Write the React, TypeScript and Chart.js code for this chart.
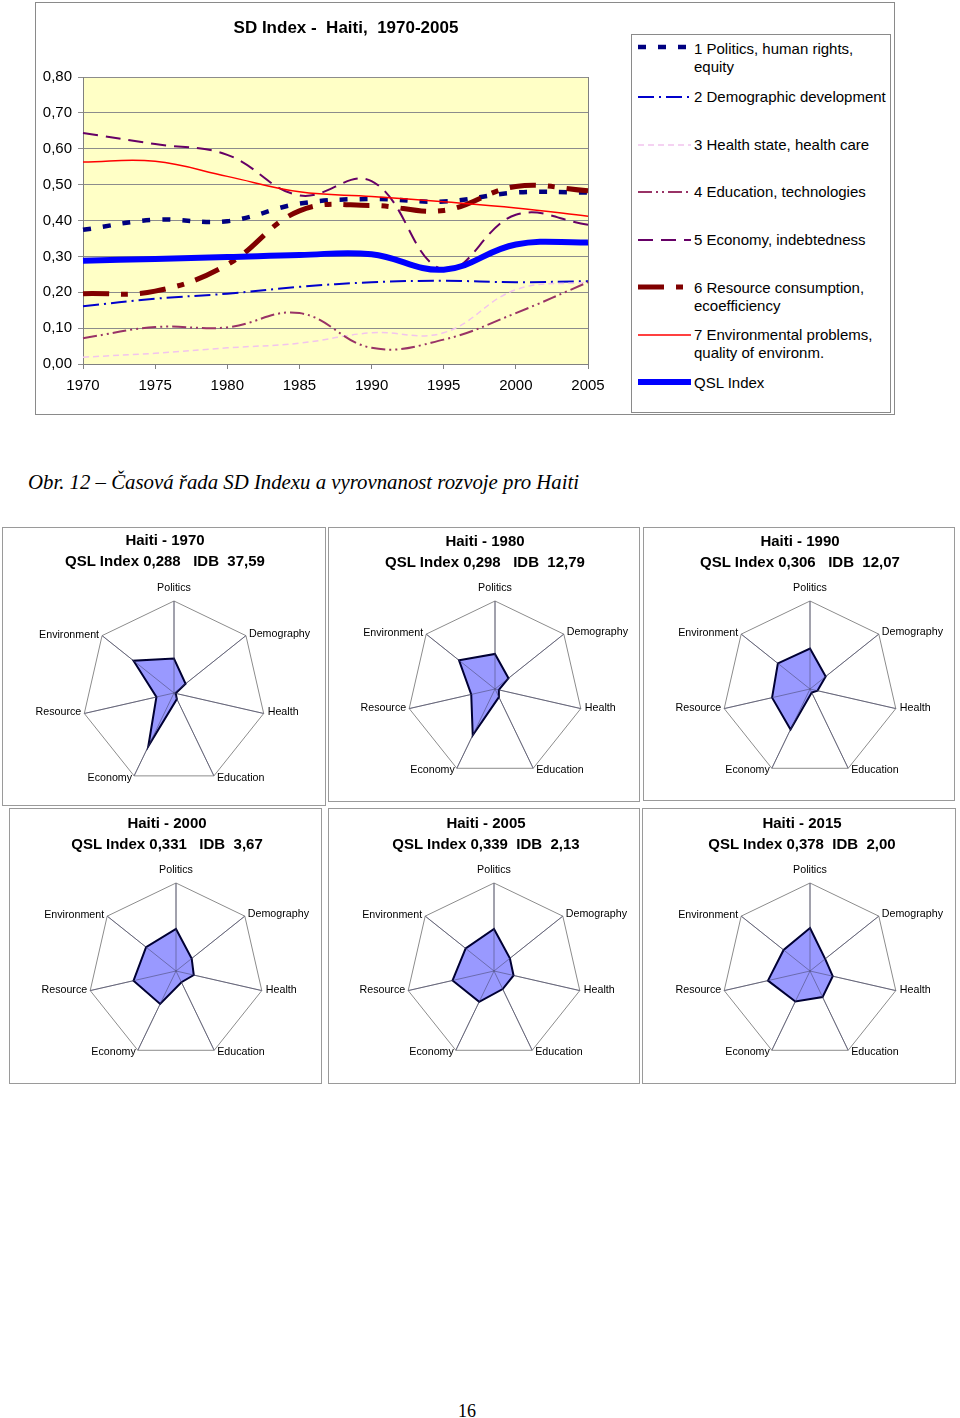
import React, { useEffect, useRef } from "react";
import { Chart, registerables } from "chart.js";

Chart.register(...registerables);

// ---------- DATA ----------
const years = ["1970", "1975", "1980", "1985", "1990", "1995", "2000", "2005"];
const politics = [0.374, 0.402, 0.398, 0.447, 0.46, 0.453, 0.478, 0.478];
const demographic = [0.161, 0.182, 0.196, 0.215, 0.228, 0.232, 0.228, 0.231];
const health = [0.019, 0.03, 0.045, 0.058, 0.087, 0.087, 0.207, 0.228];
const education = [0.072, 0.103, 0.102, 0.142, 0.045, 0.068, 0.142, 0.228];
const economy = [0.644, 0.613, 0.583, 0.47, 0.51, 0.263, 0.416, 0.388];
const resource = [0.196, 0.203, 0.277, 0.427, 0.442, 0.428, 0.495, 0.483];
const environment = [0.563, 0.565, 0.523, 0.48, 0.467, 0.452, 0.435, 0.412];
const qslIndex = [0.288, 0.293, 0.298, 0.304, 0.306, 0.263, 0.333, 0.339];

const radarAxes = ["Politics", "Demography", "Health", "Education", "Economy", "Resource", "Environment"];
const radarYears = ["1970", "1980", "1990", "2000", "2005", "2015"];
const radarYearIndex = [0, 2, 4, 6, 7]; // positions in `years` for the historical radars
const radar2015 = [0.489, 0.22, 0.265, 0.329, 0.384, 0.49, 0.384];
const radarQsl = ["0,288", "0,298", "0,306", "0,331", "0,339", "0,378"];
const radarIdb = ["37,59", "12,79", "12,07", "3,67", "2,13", "2,00"];
const radarGaps = ["   ", "   ", "   ", "   ", "  ", "  "];

const seriesLabels = [
  ["1 Politics, human rights,", "equity"],
  ["2 Demographic development"],
  ["3 Health state, health care"],
  ["4 Education, technologies"],
  ["5 Economy, indebtedness"],
  ["6 Resource consumption,", "ecoefficiency"],
  ["7 Environmental problems,", "quality of environm."],
  ["QSL Index"],
];
const seriesData = [politics, demographic, health, education, economy, resource, environment, qslIndex];

// ---------- STYLES ----------
const seriesStyle = [
  { color: "#000080", width: 4.5, dash: [8, 12] },
  { color: "#0000CC", width: 2, dash: [16, 5, 2, 5] },
  { color: "#F2C4EE", width: 1.5, dash: [6, 4] },
  { color: "#993366", width: 2, dash: [14, 4, 2, 4, 2, 4] },
  { color: "#660066", width: 2, dash: [15, 8] },
  { color: "#800000", width: 5, dash: [26, 12, 7, 12] },
  { color: "#FF0000", width: 1.5, dash: [] as number[] },
  { color: "#0000FF", width: 6, dash: [] as number[] },
];
const legendLineY = [47, 97, 145, 192, 240, 287, 335, 382];
const legendTextY = [49, 97, 145, 192, 240, 288, 335, 383];

const SANS = "'Liberation Sans', Arial, Helvetica, sans-serif";
const SERIF = "'Liberation Serif', 'Times New Roman', serif";

const panels = [
  { x: 2, y: 527, w: 324, h: 279, cx: 174, cy: 693, R: 92, tx: 165, ty: 539 },
  { x: 328, y: 527, w: 312, h: 275, cx: 495, cy: 689, R: 88, tx: 485, ty: 540 },
  { x: 643, y: 527, w: 312, h: 274, cx: 810, cy: 689, R: 88, tx: 800, ty: 540 },
  { x: 9, y: 808, w: 313, h: 276, cx: 176, cy: 971, R: 88, tx: 167, ty: 822 },
  { x: 328, y: 808, w: 312, h: 276, cx: 494, cy: 971, R: 88, tx: 486, ty: 822 },
  { x: 642, y: 808, w: 314, h: 276, cx: 810, cy: 971, R: 88, tx: 802, ty: 822 },
];

function radarValues(k: number): number[] {
  if (k >= radarYearIndex.length) return radar2015;
  const i = radarYearIndex[k];
  return [politics[i], demographic[i], health[i], education[i], economy[i], resource[i], environment[i]];
}

// ---------- MAIN LINE CHART ----------
function MainChart() {
  const ref = useRef<HTMLCanvasElement>(null);
  useEffect(() => {
    const bg = {
      id: "plotBg",
      beforeDraw(c: any) {
        const { ctx, chartArea: a } = c;
        ctx.save();
        ctx.fillStyle = "#FFFFC6";
        ctx.fillRect(a.left, a.top, a.right - a.left, a.bottom - a.top);
        ctx.restore();
      },
      beforeDatasetsDraw(c: any) {
        const { ctx, chartArea: a } = c;
        ctx.save();
        ctx.strokeStyle = "#808080";
        ctx.lineWidth = 1;
        ctx.beginPath();
        ctx.moveTo(Math.round(a.right) + 0.5, a.top);
        ctx.lineTo(Math.round(a.right) + 0.5, a.bottom);
        ctx.stroke();
        ctx.restore();
      },
    };
    const chart = new Chart(ref.current as HTMLCanvasElement, {
      type: "line",
      data: {
        labels: years,
        datasets: seriesData.map((d, i) => ({
          label: seriesLabels[i].join(" "),
          data: d,
          borderColor: seriesStyle[i].color,
          backgroundColor: seriesStyle[i].color,
          borderWidth: seriesStyle[i].width,
          borderDash: seriesStyle[i].dash,
          pointRadius: 0,
          tension: 0.4,
          fill: false,
          order: seriesData.length - i,
        })),
      },
      options: {
        responsive: false,
        animation: false,
        devicePixelRatio: 1,
        layout: { padding: { left: 7, right: 42, top: 74, bottom: 19 } },
        plugins: {
          legend: { display: false },
          title: { display: false },
          tooltip: { enabled: false },
        },
        scales: {
          x: {
            type: "category",
            offset: false,
            grid: { drawOnChartArea: false, drawTicks: true, tickLength: 5, color: "#808080" },
            border: { color: "#808080" },
            ticks: {
              color: "#000",
              font: { family: SANS, size: 15 },
              padding: 8,
              maxRotation: 0,
              autoSkip: false,
            },
            afterFit: (s: any) => {
              s.height = 30;
            },
          },
          y: {
            min: 0,
            max: 0.8,
            ticks: {
              stepSize: 0.1,
              color: "#000",
              font: { family: SANS, size: 15 },
              padding: 6,
              callback: (v: any) => Number(v).toFixed(2).replace(".", ","),
            },
            grid: { color: "#8C8C8C", tickLength: 5, lineWidth: 1 },
            border: { color: "#808080" },
            afterFit: (s: any) => {
              s.width = 40;
            },
          },
        },
      } as any,
      plugins: [bg],
    });
    return () => chart.destroy();
  }, []);
  return (
    <canvas
      ref={ref}
      width={594}
      height={410}
      style={{ position: "absolute", left: 36, top: 3, width: 594, height: 410 }}
    />
  );
}

function Legend() {
  return (
    <div
      style={{
        position: "absolute",
        left: 631,
        top: 34,
        width: 258,
        height: 377,
        border: "1px solid #8a8a8a",
        background: "#fff",
      }}
    >
      <svg width={60} height={377} style={{ position: "absolute", left: 0, top: 0 }}>
        {seriesStyle.map((s, i) => (
          <line
            key={i}
            x1={6}
            x2={59}
            y1={legendLineY[i] - 35}
            y2={legendLineY[i] - 35}
            stroke={s.color}
            strokeWidth={s.width}
            strokeDasharray={s.dash.length ? s.dash.join(" ") : undefined}
          />
        ))}
      </svg>
      {seriesLabels.map((lines, i) => (
        <div
          key={i}
          style={{
            position: "absolute",
            left: 62,
            top: legendTextY[i] - 35 - 9,
            fontFamily: SANS,
            fontSize: 15,
            lineHeight: "18px",
            color: "#000",
            whiteSpace: "pre",
          }}
        >
          {lines.map((t, j) => (
            <div key={j}>{t}</div>
          ))}
        </div>
      ))}
    </div>
  );
}

// ---------- RADAR PANELS ----------
const labelOffsets = [
  { dx: 0, dy: -13 },
  { dx: 3, dy: -2 },
  { dx: 4, dy: -1 },
  { dx: 3, dy: 2 },
  { dx: -2, dy: 2 },
  { dx: -3, dy: -1 },
  { dx: -3, dy: -1 },
];

function RadarPanel({ k }: { k: number }) {
  const ref = useRef<HTMLCanvasElement>(null);
  const p = panels[k];
  const cvX = p.x + 1;
  const cvY = p.y + 1;
  const cvW = p.w - 2;
  const cvH = p.h - 2;
  useEffect(() => {
    const labelPlugin = {
      id: "radarLabels",
      afterDatasetsDraw(c: any) {
        const s = c.scales.r;
        const ctx = c.ctx;
        ctx.save();
        ctx.strokeStyle = "rgba(70,70,110,0.55)";
        ctx.lineWidth = 1;
        for (let i = 0; i < radarAxes.length; i++) {
          const pt = s.getPointPosition(i, s.drawingArea);
          ctx.beginPath();
          ctx.moveTo(s.xCenter, s.yCenter);
          ctx.lineTo(pt.x, pt.y);
          ctx.stroke();
        }
        ctx.font = `10.7px ${SANS}`;
        ctx.fillStyle = "#000";
        ctx.textBaseline = "middle";
        for (let i = 0; i < radarAxes.length; i++) {
          const pt = s.getPointPosition(i, s.drawingArea);
          const o = labelOffsets[i];
          if (i === 0) ctx.textAlign = "center";
          else ctx.textAlign = pt.x > s.xCenter ? "left" : "right";
          ctx.fillText(radarAxes[i], pt.x + o.dx, pt.y + o.dy);
        }
        ctx.restore();
      },
    };
    const chart = new Chart(ref.current as HTMLCanvasElement, {
      type: "radar",
      data: {
        labels: radarAxes,
        datasets: [
          {
            data: radarValues(k),
            backgroundColor: "#9999FF",
            borderColor: "#000033",
            borderWidth: 2,
            pointRadius: 0,
            fill: true,
            tension: 0,
          },
        ],
      },
      options: {
        responsive: false,
        animation: false,
        devicePixelRatio: 1,
        layout: {
          padding: {
            left: p.cx - p.R - cvX,
            top: p.cy - p.R - cvY,
            right: cvX + cvW - (p.cx + p.R),
            bottom: cvY + cvH - (p.cy + p.R),
          },
        },
        plugins: {
          legend: { display: false },
          title: { display: false },
          tooltip: { enabled: false },
        },
        scales: {
          r: {
            min: 0,
            max: 1,
            ticks: { display: false, stepSize: 1 },
            pointLabels: { display: false },
            grid: { color: "#8C8C8C", lineWidth: 1 },
            angleLines: { color: "#8C8C8C", lineWidth: 1 },
          },
        },
      } as any,
      plugins: [labelPlugin],
    });
    return () => chart.destroy();
  }, [k]);
  return (
    <>
      <div
        style={{
          position: "absolute",
          left: p.x,
          top: p.y,
          width: p.w - 2,
          height: p.h - 2,
          border: "1px solid #9a9a9a",
        }}
      />
      <canvas
        ref={ref}
        width={cvW}
        height={cvH}
        style={{ position: "absolute", left: cvX, top: cvY, width: cvW, height: cvH }}
      />
      <div
        style={{
          position: "absolute",
          left: p.tx - 160,
          width: 320,
          top: p.ty - 10.5,
          textAlign: "center",
          fontFamily: SANS,
          fontWeight: "bold",
          fontSize: 15,
          lineHeight: "21px",
          whiteSpace: "pre",
          color: "#000",
        }}
      >
        <div>{`Haiti - ${radarYears[k]}`}</div>
        <div>{`QSL Index ${radarQsl[k]}${radarGaps[k]}IDB  ${radarIdb[k]}`}</div>
      </div>
    </>
  );
}

export default function App() {
  return (
    <div
      style={{
        position: "absolute",
        left: 0,
        top: 0,
        width: 960,
        height: 1418,
        background: "#fff",
        overflow: "hidden",
      }}
    >
      {/* main chart frame */}
      <div
        style={{
          position: "absolute",
          left: 35,
          top: 2,
          width: 858,
          height: 411,
          border: "1px solid #8a8a8a",
        }}
      />
      <MainChart />
      <div
        style={{
          position: "absolute",
          left: 146,
          width: 400,
          top: 17,
          textAlign: "center",
          fontFamily: SANS,
          fontWeight: "bold",
          fontSize: 17,
          lineHeight: "22px",
          whiteSpace: "pre",
          color: "#000",
        }}
      >
        {"SD Index -  Haiti,  1970-2005"}
      </div>
      <Legend />
      <div
        style={{
          position: "absolute",
          left: 28,
          top: 470,
          fontFamily: SERIF,
          fontStyle: "italic",
          fontSize: 20.8,
          lineHeight: "24px",
          whiteSpace: "pre",
          color: "#000",
        }}
      >
        {"Obr. 12 – Časová řada SD Indexu a vyrovnanost rozvoje pro Haiti"}
      </div>
      {panels.map((_, k) => (
        <RadarPanel key={k} k={k} />
      ))}
      <div
        style={{
          position: "absolute",
          left: 417,
          width: 100,
          top: 1400,
          textAlign: "center",
          fontFamily: SERIF,
          fontSize: 18,
          lineHeight: "22px",
          color: "#000",
        }}
      >
        16
      </div>
    </div>
  );
}
